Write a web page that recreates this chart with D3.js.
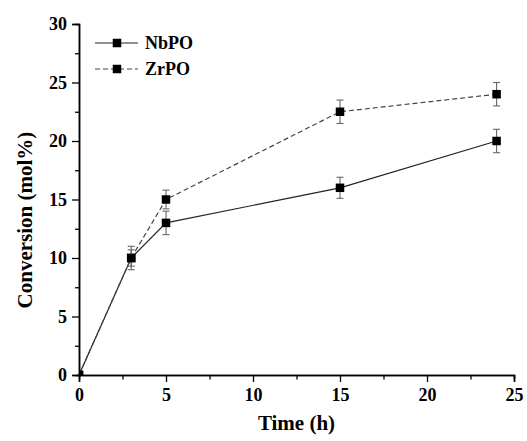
<!DOCTYPE html>
<html>
<head>
<meta charset="utf-8">
<script src="https://cdn.jsdelivr.net/npm/d3@7/dist/d3.min.js"></script>
<style>
  html, body { margin: 0; padding: 0; background: #fff; }
  svg text { font-family: "Liberation Serif", "Times New Roman", serif; font-weight: bold; fill: #000; }
</style>
</head>
<body>
<svg id="chart" width="527" height="441"></svg>
<script>
// Sampling times (h)
const times = [0, 3, 5, 15, 24];

// Conversion (mol%) and standard deviations for each catalyst
const nbpoValues = [0, 10, 13, 16, 20];
const nbpoErrors = [0, 1.0, 1.0, 0.9, 1.0];
const zrpoValues = [0, 10, 15, 22.5, 24];
const zrpoErrors = [0, 0.7, 0.8, 1.0, 1.0];

const seriesNames = ["NbPO", "ZrPO"];

// Axis ticks
const xMajorTicks = [0, 5, 10, 15, 20, 25];
const xMinorTicks = [2.5, 7.5, 12.5, 17.5, 22.5];
const yMajorTicks = [0, 5, 10, 15, 20, 25, 30];
const yMinorTicks = [2.5, 7.5, 12.5, 17.5, 22.5, 27.5];

const svg = d3.select("#chart");
const plot = { left: 79, right: 514, top: 24, bottom: 375 };

const x = d3.scaleLinear().domain([0, 25]).range([plot.left, plot.right]);
const y = d3.scaleLinear().domain([0, 30]).range([plot.bottom, plot.top]);

svg.append("defs").append("clipPath").attr("id", "plotClip")
  .append("rect").attr("x", plot.left).attr("y", plot.top)
  .attr("width", plot.right - plot.left).attr("height", plot.bottom - plot.top);

const series = [
  { name: seriesNames[0], values: nbpoValues, errors: nbpoErrors, dash: null, color: "#222" },
  { name: seriesNames[1], values: zrpoValues, errors: zrpoErrors, dash: "5,3", color: "#444" }
];

const line = d3.line().x(d => x(d[0])).y(d => y(d[1]));

// Connecting lines
series.forEach(s => {
  svg.append("path")
    .datum(times.map((t, i) => [t, s.values[i]]))
    .attr("d", line)
    .attr("fill", "none")
    .attr("stroke", s.color)
    .attr("stroke-width", 1.2)
    .attr("stroke-dasharray", s.dash);
});

// Error bars
const capHalf = 3.5;
series.forEach(s => {
  const g = svg.append("g").attr("stroke", "#666").attr("stroke-width", 1.1);
  times.forEach((t, i) => {
    const e = s.errors[i];
    if (!e) return;
    const cx = x(t), y1 = y(s.values[i] + e), y2 = y(s.values[i] - e);
    g.append("line").attr("x1", cx).attr("x2", cx).attr("y1", y1).attr("y2", y2);
    g.append("line").attr("x1", cx - capHalf).attr("x2", cx + capHalf).attr("y1", y1).attr("y2", y1);
    g.append("line").attr("x1", cx - capHalf).attr("x2", cx + capHalf).attr("y1", y2).attr("y2", y2);
  });
});

// Square markers, clipped to the plotting area
const ms = 8.5;
series.forEach(s => {
  svg.append("g").attr("clip-path", "url(#plotClip)")
    .selectAll("rect")
    .data(times.map((t, i) => [t, s.values[i]]))
    .join("rect")
    .attr("x", d => x(d[0]) - ms / 2)
    .attr("y", d => y(d[1]) - ms / 2)
    .attr("width", ms).attr("height", ms)
    .attr("fill", "#000");
});

// Axes
function styleAxis(g) {
  g.select(".domain").attr("stroke", "#000").attr("stroke-width", 1.5);
  g.selectAll(".tick line").attr("stroke", "#000").attr("stroke-width", 1.3);
  g.selectAll("text").style("font-size", "18px").attr("fill", "#000");
}

svg.append("g").attr("transform", `translate(0,${plot.bottom})`)
  .call(d3.axisBottom(x).tickValues(xMinorTicks).tickSize(4.5).tickFormat(""))
  .call(styleAxis);
svg.append("g").attr("transform", `translate(0,${plot.bottom})`)
  .call(d3.axisBottom(x).tickValues(xMajorTicks).tickSize(7).tickPadding(6).tickFormat(d3.format("d")))
  .call(styleAxis);

svg.append("g").attr("transform", `translate(${plot.left},0)`)
  .call(d3.axisLeft(y).tickValues(yMinorTicks).tickSize(4).tickFormat(""))
  .call(styleAxis);
svg.append("g").attr("transform", `translate(${plot.left},0)`)
  .call(d3.axisLeft(y).tickValues(yMajorTicks).tickSize(7).tickPadding(5).tickFormat(d3.format("d")))
  .call(styleAxis);

// Axis titles
svg.append("text")
  .attr("x", (plot.left + plot.right) / 2).attr("y", 430)
  .attr("text-anchor", "middle")
  .style("font-size", "21px")
  .text("Time (h)");

svg.append("text")
  .attr("transform", "translate(32,220) rotate(-90)")
  .attr("text-anchor", "middle")
  .style("font-size", "21px")
  .text("Conversion (mol%)");

// Legend
const legend = svg.append("g");
series.forEach((s, i) => {
  const ly = 43 + i * 26;
  legend.append("line")
    .attr("x1", 95).attr("x2", 138).attr("y1", ly).attr("y2", ly)
    .attr("stroke", s.color).attr("stroke-width", 1.2)
    .attr("stroke-dasharray", s.dash);
  legend.append("rect")
    .attr("x", 117 - ms / 2).attr("y", ly - ms / 2)
    .attr("width", ms).attr("height", ms).attr("fill", "#000");
  legend.append("text")
    .attr("x", 145).attr("y", ly + 6)
    .style("font-size", "18px")
    .text(s.name);
});
</script>
</body>
</html>
